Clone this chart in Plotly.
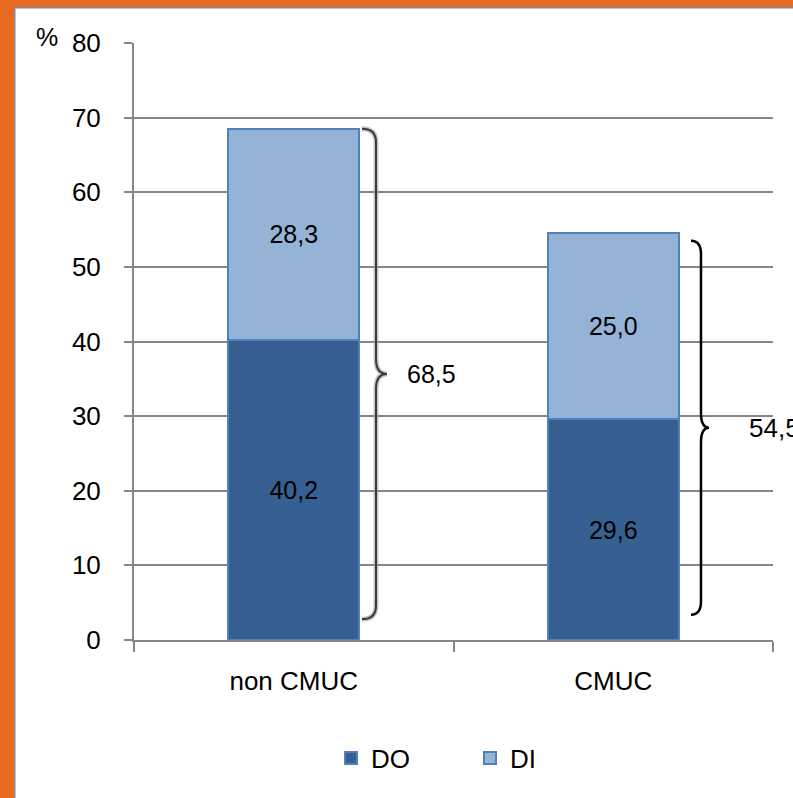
import plotly.graph_objects as go

# ---------------- data ----------------
categories = ["non CMUC", "CMUC"]
do_values = [40.2, 29.6]
di_values = [28.3, 25.0]
total_labels = ["68,5", "54,5"]
y_ticks = [0, 10, 20, 30, 40, 50, 60, 70, 80]

# ---------------- geometry ----------------
W, H = 793, 798
ML, MR, MT, MB = 134, 20, 43, 158
PW, PH = W - ML - MR, H - MT - MB

def px_x(px):
    return (px - ML) / PW

def px_y(py):
    return (H - MB - py) / PH

def cat_to_paper(v):
    # category axis range is [-0.5, 1.5]
    return (v + 0.5) / 2.0

GRID = "#868686"
DO_COLOR = "rgb(54,96,146)"
DI_COLOR = "rgb(149,179,215)"
EDGE = "rgb(79,129,189)"
FONT = "Liberation Sans, Arial, sans-serif"

fig = go.Figure()
fig.add_trace(go.Bar(
    name="DO", x=categories, y=do_values,
    marker=dict(color=DO_COLOR, line=dict(color=EDGE, width=2)),
    texttemplate="%{y:.1f}", textposition="inside", insidetextanchor="middle",
    textangle=0, constraintext="none",
    textfont=dict(family=FONT, size=25, color="black"),
))
fig.add_trace(go.Bar(
    name="DI", x=categories, y=di_values,
    marker=dict(color=DI_COLOR, line=dict(color=EDGE, width=2)),
    texttemplate="%{y:.1f}", textposition="inside", insidetextanchor="middle",
    textangle=0, constraintext="none",
    textfont=dict(family=FONT, size=25, color="black"),
))

# ---------------- braces ----------------
totals = [d + i for d, i in zip(do_values, di_values)]
brace_top_offset = [0.0, 1.1]      # how far below the total the brace starts
brace_bottom = [2.8, 3.4]
brace_end_dx = [0.2136, 0.2433]    # from category centre (category units)
brace_spine_dx = [0.2574, 0.2746]
brace_tip_dx = [0.2919, 0.2997]
brace_styles = [
    dict(color="#3a3a3a", width=2, shadow=True),
    dict(color="black", width=2.5, shadow=False),
]
label_dx = [0.348, 1.4186 - 1]
label_fonts = [25, 26]

shapes = []
annotations = []
for i, cat in enumerate(categories):
    ytop = totals[i] - brace_top_offset[i]
    ybot = brace_bottom[i]
    ym = (ytop + ybot) / 2
    xe = cat_to_paper(i + brace_end_dx[i])
    xs = cat_to_paper(i + brace_spine_dx[i])
    xt = cat_to_paper(i + brace_tip_dx[i])
    r_end = 1.8
    r_mid = 2.0
    path = (f"M {xe},{ytop} Q {xs},{ytop} {xs},{ytop - r_end} "
            f"L {xs},{ym + r_mid} Q {xs},{ym} {xt},{ym} "
            f"Q {xs},{ym} {xs},{ym - r_mid} "
            f"L {xs},{ybot + r_end} Q {xs},{ybot} {xe},{ybot}")
    st = brace_styles[i]
    if st["shadow"]:
        shapes.append(dict(type="path", path=path, xref="paper", yref="y",
                           line=dict(color="rgba(160,160,160,0.6)", width=5),
                           layer="above"))
    shapes.append(dict(type="path", path=path, xref="paper", yref="y",
                       line=dict(color=st["color"], width=st["width"]),
                       layer="above"))
    annotations.append(dict(
        x=cat_to_paper(i + label_dx[i]), y=ym, xref="paper", yref="y",
        text=total_labels[i], showarrow=False, xanchor="left", yanchor="middle",
        font=dict(family=FONT, size=label_fonts[i], color="black"),
    ))

# "%" unit label
annotations.append(dict(
    x=px_x(47), y=px_y(37), xref="paper", yref="paper", text="%",
    showarrow=False, xanchor="center", yanchor="middle",
    font=dict(family=FONT, size=25, color="black"),
))

# orange frame (top and left edges)
ORANGE = "rgb(232,106,32)"
FRAME_LINE = "rgb(128,140,160)"
shapes += [
    dict(type="rect", xref="paper", yref="paper", x0=px_x(0), x1=px_x(W),
         y0=px_y(0), y1=px_y(7), fillcolor=ORANGE, line=dict(width=0), layer="above"),
    dict(type="rect", xref="paper", yref="paper", x0=px_x(0), x1=px_x(14),
         y0=px_y(0), y1=px_y(H), fillcolor=ORANGE, line=dict(width=0), layer="above"),
    dict(type="rect", xref="paper", yref="paper", x0=px_x(14), x1=px_x(W),
         y0=px_y(7), y1=px_y(8.5), fillcolor=FRAME_LINE, line=dict(width=0), layer="above"),
    dict(type="rect", xref="paper", yref="paper", x0=px_x(14), x1=px_x(15.5),
         y0=px_y(7), y1=px_y(H), fillcolor=FRAME_LINE, line=dict(width=0), layer="above"),
]

fig.update_layout(
    barmode="stack",
    bargap=0.59,
    width=W, height=H,
    margin=dict(l=ML, r=MR, t=MT, b=MB, pad=0),
    paper_bgcolor="white", plot_bgcolor="white",
    separators=", ",
    font=dict(family=FONT, size=24, color="black"),
    showlegend=True,
    legend=dict(
        orientation="h", x=px_x(331), y=px_y(758),
        xanchor="left", yanchor="middle", traceorder="normal",
        font=dict(family=FONT, size=26, color="black"),
        entrywidth=94, entrywidthmode="pixels",
        bgcolor="rgba(0,0,0,0)",
    ),
    shapes=shapes,
    annotations=annotations,
    xaxis=dict(
        type="category", range=[-0.5, 1.5],
        tickson="boundaries", ticks="outside", ticklen=10, tickwidth=2,
        tickcolor=GRID, showline=True, linecolor=GRID, linewidth=2,
        showgrid=False, tickfont=dict(family=FONT, size=26, color="black"),
        ticklabelstandoff=17,
    ),
    yaxis=dict(
        range=[0, 80], tickvals=y_ticks, ticks="outside", ticklen=8,
        tickwidth=2, tickcolor=GRID, showline=True, linecolor=GRID, linewidth=2,
        showgrid=True, gridcolor=GRID, gridwidth=1.5, zeroline=False,
        tickfont=dict(family=FONT, size=26, color="black"),
        ticklabelstandoff=18,
    ),
)

fig.write_html("out.html")
